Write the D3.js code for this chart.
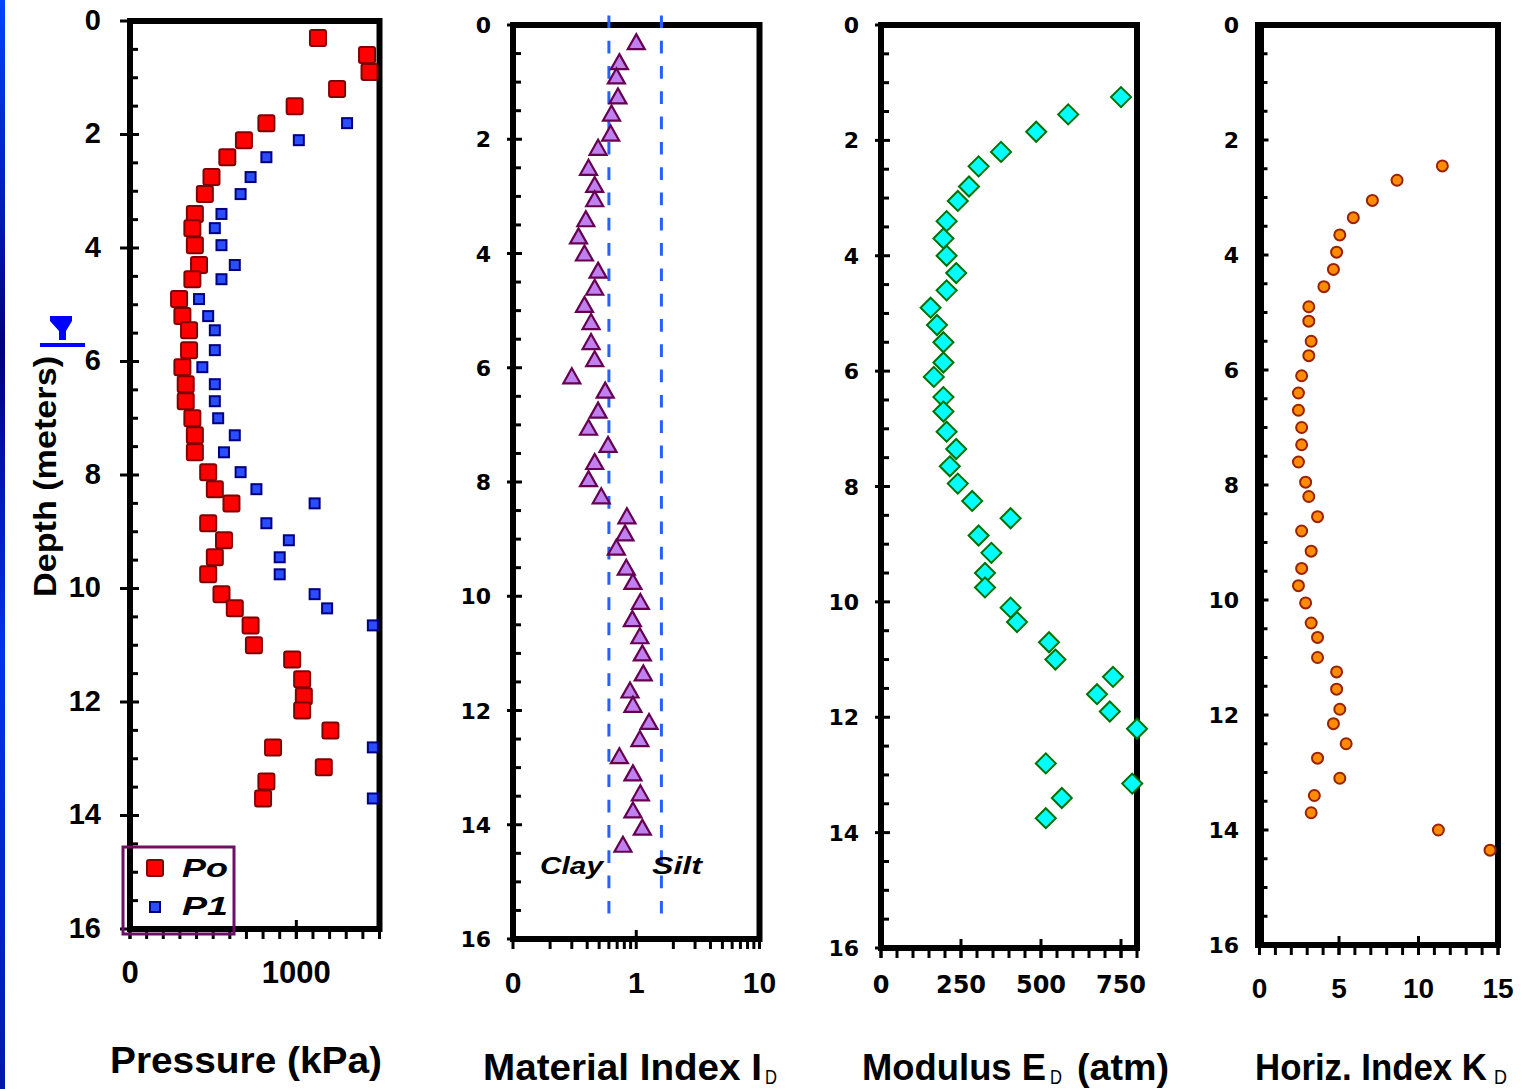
<!DOCTYPE html>
<html><head><meta charset="utf-8">
<script src="https://cdn.jsdelivr.net/npm/d3@7"></script>
<style>html,body{margin:0;padding:0;background:#fff;overflow:hidden}</style>
</head><body>
<svg id="chart" width="1526" height="1089"></svg>
<script>
// ---------------- DATA ----------------
const depthTicks = [0, 2, 4, 6, 8, 10, 12, 14, 16];
const depthTickLabels = ["0", "2", "4", "6", "8", "10", "12", "14", "16"];

// Panel 1: Pressure (kPa)
const depthPo = [0.3, 0.6, 0.9, 1.2, 1.5, 1.8, 2.1, 2.4, 2.75, 3.05, 3.4, 3.65, 3.95, 4.3, 4.55, 4.9, 5.2, 5.45, 5.8, 6.1, 6.4, 6.7, 7.0, 7.3, 7.6, 7.95, 8.25, 8.5, 8.85, 9.15, 9.45, 9.75, 10.1, 10.35, 10.65, 11.0, 11.25, 11.6, 11.9, 12.15, 12.5, 12.8, 13.15, 13.4, 13.7];
const po = [1130, 1425, 1440, 1245, 990, 820, 685, 585, 490, 450, 390, 375, 390, 415, 375, 295, 315, 355, 355, 315, 335, 335, 375, 390, 390, 470, 510, 610, 470, 565, 510, 470, 550, 630, 725, 745, 975, 1035, 1045, 1035, 1205, 860, 1165, 820, 800];
const depthP1 = [1.8, 2.1, 2.4, 2.75, 3.05, 3.4, 3.65, 3.95, 4.3, 4.55, 4.9, 5.2, 5.45, 5.8, 6.1, 6.4, 6.7, 7.0, 7.3, 7.6, 7.95, 8.25, 8.5, 8.85, 9.15, 9.45, 9.75, 10.1, 10.35, 10.65, 12.8, 13.7];
const p1 = [1305, 1015, 820, 725, 665, 550, 510, 550, 630, 550, 415, 470, 510, 510, 435, 510, 510, 530, 630, 565, 665, 760, 1110, 820, 955, 900, 900, 1110, 1185, 1460, 1460, 1460];
const pressureTicks = [0, 1000];
const pressureTickLabels = ["0", "1000"];
const legendLabels = ["Po", "P1"];

// Panel 2: Material Index ID (log)
const depthId = [0.3, 0.65, 0.9, 1.25, 1.55, 1.9, 2.15, 2.5, 2.8, 3.05, 3.4, 3.7, 4.0, 4.3, 4.6, 4.9, 5.2, 5.55, 5.85, 6.15, 6.4, 6.75, 7.05, 7.35, 7.65, 7.95, 8.25, 8.6, 8.9, 9.15, 9.5, 9.75, 10.1, 10.4, 10.7, 11.0, 11.35, 11.65, 11.9, 12.2, 12.5, 12.8, 13.1, 13.45, 13.75, 14.05, 14.35];
const idVals = [1.00, 0.73, 0.69, 0.71, 0.63, 0.62, 0.49, 0.41, 0.46, 0.46, 0.39, 0.34, 0.38, 0.49, 0.46, 0.38, 0.43, 0.43, 0.46, 0.30, 0.56, 0.49, 0.41, 0.59, 0.46, 0.41, 0.52, 0.84, 0.81, 0.69, 0.83, 0.94, 1.08, 0.93, 1.07, 1.12, 1.14, 0.89, 0.94, 1.27, 1.07, 0.73, 0.94, 1.08, 0.94, 1.12, 0.78];
const idTicks = [0.1, 1, 10];
const idTickLabels = ["0", "1", "10"];
const soilBounds = [0.6, 1.6];
const soilLabels = ["Clay", "Silt"];

// Panel 3: Modulus ED (atm)
const depthEd = [1.25, 1.55, 1.85, 2.2, 2.45, 2.8, 3.05, 3.4, 3.7, 4.0, 4.3, 4.6, 4.9, 5.2, 5.5, 5.85, 6.1, 6.45, 6.7, 7.05, 7.35, 7.65, 7.95, 8.25, 8.55, 8.85, 9.15, 9.5, 9.75, 10.1, 10.35, 10.7, 11.0, 11.3, 11.6, 11.9, 12.2, 12.8, 13.15, 13.4, 13.75];
const edVals = [750, 585, 485, 375, 305, 275, 240, 205, 195, 205, 235, 205, 155, 175, 195, 195, 165, 195, 195, 205, 235, 215, 240, 285, 405, 305, 345, 325, 325, 405, 425, 525, 545, 725, 675, 715, 800, 515, 785, 565, 515];
const edTicks = [0, 250, 500, 750];
const edTickLabels = ["0", "250", "500", "750"];

// Panel 4: Horiz. Index KD
const depthKd = [2.45, 2.7, 3.05, 3.35, 3.65, 3.95, 4.25, 4.55, 4.9, 5.15, 5.5, 5.75, 6.1, 6.4, 6.7, 7.0, 7.3, 7.6, 7.95, 8.2, 8.55, 8.8, 9.15, 9.45, 9.75, 10.05, 10.4, 10.65, 11.0, 11.25, 11.55, 11.9, 12.15, 12.5, 12.75, 13.1, 13.4, 13.7, 14.0, 14.35];
const kdVals = [11.5, 8.65, 7.1, 5.9, 5.05, 4.85, 4.65, 4.05, 3.1, 3.1, 3.25, 3.1, 2.65, 2.45, 2.45, 2.65, 2.65, 2.45, 2.9, 3.1, 3.65, 2.65, 3.25, 2.65, 2.45, 2.9, 3.25, 3.65, 3.65, 4.85, 4.85, 5.05, 4.65, 5.45, 3.65, 5.05, 3.45, 3.25, 11.25, 14.5];
const kdTicks = [0, 5, 10, 15];
const kdTickLabels = ["0", "5", "10", "15"];

// ---------------- DRAW ----------------
const svg = d3.select("#chart");
const LIB = "'Liberation Sans', Arial, sans-serif";
const DJV = "'DejaVu Sans', sans-serif";

// left slide edge strip
const defs = svg.append("defs");
const grad = defs.append("linearGradient").attr("id", "edge").attr("x1", 0).attr("y1", 0).attr("x2", 0).attr("y2", 1);
[[0, "#0044ff"], [0.32, "#000080"], [0.6, "#0033ee"], [1, "#0018a8"]].forEach(s =>
  grad.append("stop").attr("offset", s[0]).attr("stop-color", s[1]));
svg.append("rect").attr("x", 0).attr("y", 0).attr("width", 5).attr("height", 1089).attr("fill", "url(#edge)");

function frame(x, y, o) {
  const g = svg.append("g");
  const [x0, x1] = x.range(), [y0, y1] = y.range();
  const minorY = d3.range(0.5, 16, 0.5).filter(v => v % 2 !== 0);
  g.selectAll(null).data(minorY).join("line")
    .attr("x1", x0).attr("x2", x0 + 8).attr("y1", d => y(d)).attr("y2", d => y(d))
    .attr("stroke", "#000").attr("stroke-width", 3);
  g.selectAll(null).data(depthTicks).join("line")
    .attr("x1", x0 - o.majOut).attr("x2", x0 + 9).attr("y1", d => y(d)).attr("y2", d => y(d))
    .attr("stroke", "#000").attr("stroke-width", 3);
  g.selectAll(null).data(o.minorX).join("line")
    .attr("x1", d => x(d)).attr("x2", d => x(d)).attr("y1", y1).attr("y2", y1 + 10)
    .attr("stroke", "#000").attr("stroke-width", 3);
  g.selectAll(null).data(o.majorX).join("line")
    .attr("x1", d => x(d)).attr("x2", d => x(d)).attr("y1", y1 - 9).attr("y2", y1 + 10)
    .attr("stroke", "#000").attr("stroke-width", 3);
  g.append("rect").attr("x", x0).attr("y", y0).attr("width", x1 - x0).attr("height", y1 - y0)
    .attr("fill", "none").attr("stroke", "#000").attr("stroke-width", 6);
  if (o.thickLeft) g.append("line").attr("x1", x0).attr("x2", x0).attr("y1", y0 - 3).attr("y2", y1 + 3)
    .attr("stroke", "#000").attr("stroke-width", 9);
  g.selectAll(null).data(depthTicks).join("text")
    .attr("x", o.yLabX).attr("y", d => y(d) + o.yLabDy)
    .attr("text-anchor", "end").attr("font-family", o.yFont).attr("font-weight", "bold")
    .attr("font-size", o.yFs).text((d, i) => depthTickLabels[i]);
  g.selectAll(null).data(o.majorX).join("text")
    .attr("x", d => x(d)).attr("y", o.xLabY)
    .attr("text-anchor", "middle").attr("font-family", o.xFont).attr("font-weight", "bold")
    .attr("font-size", o.xFs).text((d, i) => o.xLabels[i]);
  return g;
}

// ---- Panel 1
const x1s = d3.scaleLinear().domain([0, 1500]).range([130, 379.5]);
const y1s = d3.scaleLinear().domain([0, 16]).range([21, 929]);
frame(x1s, y1s, { majOut: 10, minorX: d3.range(0, 1501, 100), majorX: pressureTicks, xLabels: pressureTickLabels,
  yLabX: 101, yLabDy: 8.5, yFont: LIB, yFs: 29, xLabY: 983, xFont: LIB, xFs: 31 });

svg.append("rect").attr("x", 123).attr("y", 847).attr("width", 111).attr("height", 87)
  .attr("fill", "none").attr("stroke", "#6d0f67").attr("stroke-width", 3);

svg.append("g").selectAll(null).data(depthP1).join("rect")
  .attr("x", (d, i) => x1s(p1[i]) - 5).attr("y", d => y1s(d) - 5).attr("width", 10).attr("height", 10)
  .attr("fill", "#2a4dff").attr("stroke", "#000080").attr("stroke-width", 2);
svg.append("g").selectAll(null).data(depthPo).join("rect")
  .attr("x", (d, i) => x1s(po[i]) - 8).attr("y", d => y1s(d) - 8).attr("width", 16).attr("height", 16).attr("rx", 2)
  .attr("fill", "#ff0000").attr("stroke", "#800000").attr("stroke-width", 2);

svg.append("rect").attr("x", 147).attr("y", 860).attr("width", 16).attr("height", 16).attr("rx", 2)
  .attr("fill", "#ff0000").attr("stroke", "#800000").attr("stroke-width", 2);
svg.append("rect").attr("x", 150).attr("y", 902).attr("width", 10).attr("height", 10)
  .attr("fill", "#2a4dff").attr("stroke", "#000080").attr("stroke-width", 2);
[[877, legendLabels[0]], [915, legendLabels[1]]].forEach(t =>
  svg.append("text").attr("x", 182).attr("y", t[0]).attr("font-family", LIB).attr("font-weight", "bold")
    .attr("font-style", "italic").attr("font-size", 26).attr("textLength", 46).attr("lengthAdjust", "spacingAndGlyphs").text(t[1]));

// water table symbol
svg.append("polygon").attr("points", "50,316 72,316 72,321 66,331 66,340 59,340 59,331 50,321").attr("fill", "#0000ff");
svg.append("rect").attr("x", 40).attr("y", 343).attr("width", 45).attr("height", 4).attr("fill", "#0000ff");

// ---- Panel 2
const x2s = d3.scaleLog().domain([0.1, 10]).range([513, 759.5]);
const y2s = d3.scaleLinear().domain([0, 16]).range([25, 939]);
const logMinor = [0.2, 0.3, 0.4, 0.5, 0.6, 0.7, 0.8, 0.9, 2, 3, 4, 5, 6, 7, 8, 9];
frame(x2s, y2s, { majOut: 6, minorX: logMinor, majorX: idTicks, xLabels: idTickLabels,
  yLabX: 491, yLabDy: 8, yFont: DJV, yFs: 22, xLabY: 992.5, xFont: LIB, xFs: 30 });
svg.append("g").selectAll(null).data(soilBounds).join("line")
  .attr("x1", d => x2s(d)).attr("x2", d => x2s(d)).attr("y1", 15.4).attr("y2", 923)
  .attr("stroke", "#2860ff").attr("stroke-width", 3).attr("stroke-dasharray", "12.7,12.6");
svg.append("text").attr("x", 540).attr("y", 874).attr("font-family", LIB).attr("font-weight", "bold")
  .attr("font-style", "italic").attr("font-size", 24).attr("textLength", 63).attr("lengthAdjust", "spacingAndGlyphs").text(soilLabels[0]);
svg.append("text").attr("x", 652).attr("y", 874).attr("font-family", LIB).attr("font-weight", "bold")
  .attr("font-style", "italic").attr("font-size", 24).attr("textLength", 50).attr("lengthAdjust", "spacingAndGlyphs").text(soilLabels[1]);
svg.append("g").selectAll(null).data(depthId).join("path")
  .attr("transform", (d, i) => `translate(${x2s(idVals[i])},${y2s(d)})`)
  .attr("d", "M0,-8L8.5,7L-8.5,7Z")
  .attr("fill", "#c080f0").attr("stroke", "#660050").attr("stroke-width", 2.2);

// ---- Panel 3
const x3s = d3.scaleLinear().domain([0, 800]).range([881, 1137]);
const y3s = d3.scaleLinear().domain([0, 16]).range([25, 948]);
frame(x3s, y3s, { majOut: 6, minorX: d3.range(0, 801, 50), majorX: edTicks, xLabels: edTickLabels,
  yLabX: 859, yLabDy: 8, yFont: DJV, yFs: 22, xLabY: 993, xFont: DJV, xFs: 24 });
svg.append("g").selectAll(null).data(depthEd).join("path")
  .attr("transform", (d, i) => `translate(${x3s(edVals[i])},${y3s(d)})`)
  .attr("d", "M0,-10L10,0L0,10L-10,0Z")
  .attr("fill", "#00ffff").attr("stroke", "#007000").attr("stroke-width", 2);

// ---- Panel 4
const x4s = d3.scaleLinear().domain([0, 15]).range([1259.5, 1498]);
const y4s = d3.scaleLinear().domain([0, 16]).range([25, 945]);
frame(x4s, y4s, { majOut: 4, thickLeft: true, minorX: d3.range(0, 16, 1), majorX: kdTicks, xLabels: kdTickLabels,
  yLabX: 1239, yLabDy: 8, yFont: DJV, yFs: 22, xLabY: 998, xFont: LIB, xFs: 28 });
svg.append("g").selectAll(null).data(depthKd).join("circle")
  .attr("cx", (d, i) => x4s(kdVals[i])).attr("cy", d => y4s(d)).attr("r", 5.5)
  .attr("fill", "#ff8c00").attr("stroke", "#992200").attr("stroke-width", 2);

// ---- Titles
function title(x, y, txt, len, fs, weight) {
  svg.append("text").attr("x", x).attr("y", y).attr("font-family", LIB).attr("font-weight", weight || "bold")
    .attr("font-size", fs).attr("textLength", len).attr("lengthAdjust", "spacingAndGlyphs").text(txt);
}
title(110, 1073, "Pressure (kPa)", 272, 37);
title(483, 1080, "Material Index I", 279, 36);
title(765, 1084, "D", 12, 20, "normal");
title(862, 1080, "Modulus E", 184, 36);
title(1050, 1084, "D", 12, 20, "normal");
title(1077, 1080, "(atm)", 92, 36);
title(1255, 1080, "Horiz. Index K", 232, 36);
title(1494, 1084, "D", 13, 20, "normal");

svg.append("text").attr("transform", "translate(56,476.5) rotate(-90)")
  .attr("text-anchor", "middle").attr("font-family", LIB).attr("font-weight", "bold").attr("font-size", 32)
  .attr("textLength", 241).attr("lengthAdjust", "spacingAndGlyphs").text("Depth (meters)");
</script>
</body></html>
